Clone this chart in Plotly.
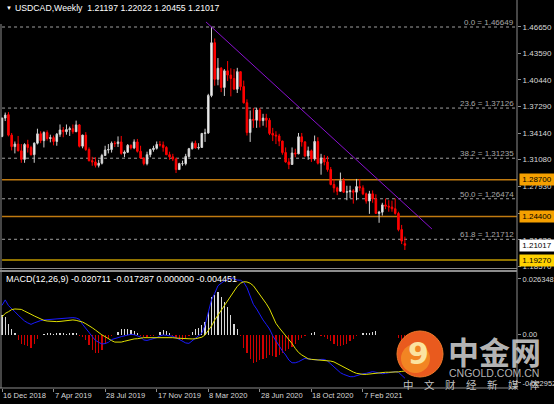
import plotly.graph_objects as go

# ---------------- data (weekly bars, USDCAD) ----------------
week_start = ["2018-12-16", "2018-12-23", "2018-12-30", "2019-01-06", "2019-01-13", "2019-01-20", "2019-01-27",
              "2019-02-03", "2019-02-10", "2019-02-17", "2019-02-24", "2019-03-03", "2019-03-10", "2019-03-17",
              "2019-03-24", "2019-03-31", "2019-04-07", "2019-04-14", "2019-04-21", "2019-04-28", "2019-05-05",
              "2019-05-12", "2019-05-19", "2019-05-26", "2019-06-02", "2019-06-09", "2019-06-16", "2019-06-23",
              "2019-06-30", "2019-07-07", "2019-07-14", "2019-07-21", "2019-07-28", "2019-08-04", "2019-08-11",
              "2019-08-18", "2019-08-25", "2019-09-01", "2019-09-08", "2019-09-15", "2019-09-22", "2019-09-29",
              "2019-10-06", "2019-10-13", "2019-10-20", "2019-10-27", "2019-11-03", "2019-11-10", "2019-11-17",
              "2019-11-24", "2019-12-01", "2019-12-08", "2019-12-15", "2019-12-22", "2019-12-29", "2020-01-05",
              "2020-01-12", "2020-01-19", "2020-01-26", "2020-02-02", "2020-02-09", "2020-02-16", "2020-02-23",
              "2020-03-01", "2020-03-08", "2020-03-15", "2020-03-22", "2020-03-29", "2020-04-05", "2020-04-12",
              "2020-04-19", "2020-04-26", "2020-05-03", "2020-05-10", "2020-05-17", "2020-05-24", "2020-05-31",
              "2020-06-07", "2020-06-14", "2020-06-21", "2020-06-28", "2020-07-05", "2020-07-12", "2020-07-19",
              "2020-07-26", "2020-08-02", "2020-08-09", "2020-08-16", "2020-08-23", "2020-08-30", "2020-09-06",
              "2020-09-13", "2020-09-20", "2020-09-27", "2020-10-04", "2020-10-11", "2020-10-18", "2020-10-25",
              "2020-11-01", "2020-11-08", "2020-11-15", "2020-11-22", "2020-11-29", "2020-12-06", "2020-12-13",
              "2020-12-20", "2020-12-27", "2021-01-03", "2021-01-10", "2021-01-17", "2021-01-24", "2021-01-31",
              "2021-02-07", "2021-02-14", "2021-02-21", "2021-02-28", "2021-03-07", "2021-03-14", "2021-03-21",
              "2021-03-28", "2021-04-04", "2021-04-11", "2021-04-18", "2021-04-25", "2021-05-02", "2021-05-09"]

open_ = [1.3380, 1.3595, 1.3635, 1.3395, 1.3260, 1.3290, 1.3210, 1.3110, 1.3285, 1.3250, 1.3165, 1.3300, 1.3410,
         1.3330, 1.3425, 1.3355, 1.3365, 1.3320, 1.3405, 1.3455, 1.3435, 1.3460, 1.3470, 1.3435, 1.3515, 1.3265,
         1.3395, 1.3225, 1.3095, 1.3080, 1.3040, 1.3065, 1.3155, 1.3220, 1.3225, 1.3300, 1.3295, 1.3315, 1.3180,
         1.3195, 1.3275, 1.3245, 1.3315, 1.3205, 1.3125, 1.3060, 1.3165, 1.3225, 1.3240, 1.3285, 1.3280, 1.3250,
         1.3165, 1.3140, 1.3115, 1.2990, 1.3060, 1.3060, 1.3145, 1.3235, 1.3300, 1.3245, 1.3250, 1.3415, 1.3420,
         1.3860, 1.4480, 1.4050, 1.4180, 1.3955, 1.4150, 1.4100, 1.4060, 1.3935, 1.4140, 1.3965, 1.3775, 1.3425,
         1.3580, 1.3570, 1.3690, 1.3565, 1.3595, 1.3570, 1.3415, 1.3395, 1.3385, 1.3325, 1.3190, 1.3080, 1.3050,
         1.3185, 1.3175, 1.3375, 1.3315, 1.3150, 1.3210, 1.3115, 1.3320, 1.3065, 1.3125, 1.3080, 1.2990, 1.2815,
         1.2775, 1.2735, 1.2860, 1.2725, 1.2730, 1.2740, 1.2725, 1.2790, 1.2775, 1.2705, 1.2620, 1.2705, 1.2645,
         1.2475, 1.2490, 1.2575, 1.2560, 1.2550, 1.2530, 1.2475, 1.2285, 1.21197]
high = [1.3600, 1.3660, 1.3665, 1.3420, 1.3320, 1.3385, 1.3290, 1.3300, 1.3340, 1.3270, 1.3310, 1.3470, 1.3440,
        1.3440, 1.3450, 1.3400, 1.3390, 1.3420, 1.3520, 1.3490, 1.3520, 1.3495, 1.3520, 1.3565, 1.3525, 1.3400,
        1.3430, 1.3250, 1.3140, 1.3135, 1.3105, 1.3175, 1.3270, 1.3290, 1.3320, 1.3325, 1.3380, 1.3385, 1.3215,
        1.3290, 1.3285, 1.3345, 1.3350, 1.3270, 1.3135, 1.3200, 1.3235, 1.3270, 1.3320, 1.3325, 1.3320, 1.3265,
        1.3200, 1.3175, 1.3130, 1.3070, 1.3095, 1.3175, 1.3245, 1.3320, 1.3330, 1.3300, 1.3420, 1.3470, 1.3880,
        1.4667, 1.4530, 1.4300, 1.4195, 1.4170, 1.4265, 1.4180, 1.4170, 1.4185, 1.4145, 1.4035, 1.3815, 1.3685,
        1.3715, 1.3715, 1.3715, 1.3645, 1.3645, 1.3595, 1.3480, 1.3440, 1.3410, 1.3330, 1.3250, 1.3125, 1.3250,
        1.3235, 1.3420, 1.3420, 1.3325, 1.3260, 1.3225, 1.3390, 1.3370, 1.3175, 1.3160, 1.3150, 1.3020, 1.2875,
        1.2790, 1.2955, 1.2890, 1.2800, 1.2800, 1.2760, 1.2880, 1.2880, 1.2805, 1.2720, 1.2740, 1.2745, 1.2700,
        1.2505, 1.2600, 1.2650, 1.2630, 1.2625, 1.2650, 1.2495, 1.2340, 1.22022]
low = [1.3370, 1.3560, 1.3380, 1.3215, 1.3180, 1.3205, 1.3070, 1.3070, 1.3190, 1.3155, 1.3070, 1.3285, 1.3300,
       1.3250, 1.3330, 1.3310, 1.3275, 1.3270, 1.3375, 1.3370, 1.3400, 1.3385, 1.3410, 1.3430, 1.3250, 1.3240,
       1.3210, 1.3085, 1.3035, 1.3015, 1.3015, 1.3050, 1.3150, 1.3180, 1.3190, 1.3255, 1.3255, 1.3165, 1.3135,
       1.3185, 1.3225, 1.3230, 1.3190, 1.3115, 1.3040, 1.3040, 1.3135, 1.3200, 1.3225, 1.3260, 1.3200, 1.3160,
       1.3105, 1.3090, 1.2950, 1.2990, 1.3035, 1.3040, 1.3130, 1.3225, 1.3235, 1.3225, 1.3250, 1.3315, 1.3410,
       1.3840, 1.3975, 1.3980, 1.3900, 1.3855, 1.4030, 1.3850, 1.3930, 1.3890, 1.3920, 1.3765, 1.3390, 1.3315,
       1.3480, 1.3480, 1.3485, 1.3505, 1.3485, 1.3395, 1.3325, 1.3290, 1.3265, 1.3165, 1.3070, 1.2995, 1.3050,
       1.3135, 1.3170, 1.3260, 1.3140, 1.3105, 1.3080, 1.3095, 1.3050, 1.2930, 1.3040, 1.2965, 1.2805, 1.2720,
       1.2690, 1.2730, 1.2715, 1.2630, 1.2655, 1.2590, 1.2630, 1.2740, 1.2690, 1.2590, 1.2470, 1.2600, 1.2470,
       1.2365, 1.2450, 1.2525, 1.2495, 1.2495, 1.2460, 1.2265, 1.2115, 1.20455]
close = [1.3595, 1.3630, 1.3395, 1.3260, 1.3290, 1.3210, 1.3110, 1.3285, 1.3250, 1.3165, 1.3300, 1.3410, 1.3330,
         1.3425, 1.3355, 1.3365, 1.3320, 1.3405, 1.3455, 1.3435, 1.3460, 1.3470, 1.3435, 1.3515, 1.3265, 1.3395,
         1.3225, 1.3095, 1.3080, 1.3040, 1.3065, 1.3155, 1.3220, 1.3225, 1.3300, 1.3295, 1.3315, 1.3180, 1.3195,
         1.3275, 1.3245, 1.3315, 1.3205, 1.3125, 1.3060, 1.3165, 1.3225, 1.3240, 1.3285, 1.3280, 1.3250, 1.3165,
         1.3140, 1.3115, 1.2990, 1.3060, 1.3060, 1.3145, 1.3235, 1.3300, 1.3245, 1.3250, 1.3415, 1.3420, 1.3860,
         1.4480, 1.4050, 1.4180, 1.3955, 1.4150, 1.4100, 1.4060, 1.3935, 1.4140, 1.3965, 1.3775, 1.3425, 1.3580,
         1.3570, 1.3690, 1.3565, 1.3595, 1.3570, 1.3415, 1.3395, 1.3385, 1.3325, 1.3190, 1.3080, 1.3050, 1.3185,
         1.3175, 1.3375, 1.3315, 1.3150, 1.3210, 1.3115, 1.3320, 1.3065, 1.3125, 1.3080, 1.2990, 1.2815, 1.2775,
         1.2735, 1.2860, 1.2725, 1.2730, 1.2740, 1.2725, 1.2790, 1.2775, 1.2705, 1.2620, 1.2705, 1.2645, 1.2475,
         1.2490, 1.2575, 1.2560, 1.2550, 1.2530, 1.2475, 1.2285, 1.2150, 1.21017]

macd_hist_e3 = [9.2, 8.4, 5.2, 2.8, 0.5, -2.7, -4.7, -5.1, -5.4, -6.3, -4.3, -1.9, -0.3, 0.4, 0.8, 0.8, 0.3, 0.5,
                0.5, 0.5, 0.3, 0.5, 0.5, 0.5, -0.6, -1.1, -2.7, -5.1, -7.4, -9.0, -9.0, -7.4, -4.3, -1.9, -0.6,
                0.0, 1.3, 2.4, 2.5, 2.4, 2.1, 1.6, 0.5, -0.6, -1.1, -1.1, -0.6, -0.6, -0.3, 1.3, 1.9, 1.6, 0.8,
                -0.6, -1.6, -2.7, -2.7, -1.6, -0.6, 1.3, 2.5, 3.2, 4.7, 6.0, 10.7, 17.9, 18.6, 20.2, 17.9, 15.5,
                13.1, 9.2, 5.2, 2.8, -0.5, -6.6, -9.0, -11.7, -13.3, -13.0, -12.2, -11.7, -11.1, -9.8, -10.1,
                -10.6, -9.8, -9.0, -7.9, -7.0, -5.8, -4.3, -2.7, -1.6, -0.6, -0.3, 0.5, 1.3, 0.0, -0.6, -1.1,
                -1.9, -3.2, -4.7, -5.5, -5.5, -5.1, -4.3, -3.2, -1.9, -0.8, 0.0, 0.5, 0.6, 0.8, 1.3, 1.6, -0.3,
                -0.3, -0.3, -0.3, -0.3, -0.3, -1.5, -2.8, -4.45]
macd_main_e3 = [13.8, 16.4, 13.7, 12.4, 10.8, 9.2, 7.7, 6.4, 5.5, 4.8, 5.5, 6.1, 6.6, 6.9, 7.0, 7.2, 7.2, 7.3, 7.5,
                7.7, 7.8, 8.0, 8.0, 7.8, 7.2, 4.8, 2.6, 1.0, -1.0, -2.8, -3.7, -4.5, -4.3, -3.7, -2.4, -1.8, -1.5,
                -1.0, -0.7, -0.4, 0.1, -0.1, -0.6, -1.2, -2.6, -2.8, -2.4, -2.1, -1.5, -0.7, -0.2, -0.4, -0.6,
                -0.9, -1.5, -2.4, -3.4, -4.0, -4.2, -3.1, -1.8, -0.6, 0.6, 4.5, 10.8, 16.4, 19.5, 23.1, 24.3,
                25.4, 26.0, 26.9, 26.3, 25.8, 25.7, 24.7, 22.2, 17.9, 14.3, 12.1, 9.2, 6.9, 4.8, 2.6, -0.6, -3.1,
                -5.8, -7.8, -9.7, -12.1, -13.4, -13.4, -12.9, -11.9, -11.3, -11.6, -11.8, -12.1, -12.1, -11.8,
                -11.8, -12.6, -14.0, -15.4, -17.0, -18.1, -18.9, -19.5, -20.0, -20.0, -19.5, -18.9, -18.6, -18.4,
                -18.1, -17.6, -17.9, -18.4, -18.6, -18.4, -18.1, -17.6, -17.6, -17.9, -19.2, -20.7]
macd_signal_e3 = [8.3, 10.0, 10.8, 11.8, 12.1, 12.1, 11.9, 11.1, 10.5, 9.6, 8.8, 8.0, 7.3, 6.7, 6.4, 6.2, 6.1,
                  6.1, 6.2, 6.4, 6.6, 6.7, 6.9, 6.7, 6.4, 5.9, 5.1, 4.3, 3.2, 2.1, 0.9, -0.2, -1.0, -2.1, -2.9,
                  -3.6, -3.7, -3.6, -3.2, -2.8, -2.3, -2.1, -2.0, -1.7, -1.5, -1.5, -1.5, -1.5, -1.5, -1.3, -1.3,
                  -1.3, -1.3, -1.5, -1.7, -1.8, -2.0, -2.1, -2.1, -2.1, -2.0, -1.8, -1.3, -0.2, 1.7, 4.0, 6.9,
                  9.2, 11.3, 13.7, 15.9, 18.2, 20.6, 22.8, 24.3, 25.0, 24.9, 24.3, 23.1, 21.1, 18.7, 16.7, 14.6,
                  12.1, 8.5, 5.3, 3.2, 1.3, -0.2, -2.1, -4.3, -6.6, -8.5, -9.7, -10.7, -11.5, -11.8, -11.9,
                  -12.1, -12.1, -12.1, -12.2, -12.6, -13.0, -13.8, -14.6, -15.4, -16.4, -17.1, -17.8, -18.4,
                  -18.7, -18.9, -18.9, -18.7, -18.6, -18.4, -18.2, -18.1, -17.9, -17.9, -17.9, -17.9, -17.7,
                  -17.5, -17.3]

date_tick_bars = [0, 16, 32, 48, 64, 80, 96, 112]
date_tick_labels = ["16 Dec 2018", "7 Apr 2019", "28 Jul 2019", "17 Nov 2019", "8 Mar 2020",
                    "28 Jun 2020", "18 Oct 2020", "7 Feb 2021"]
price_ticks = [1.46650, 1.43590, 1.40440, 1.37290, 1.34140, 1.31080, 1.27930, 1.24780, 1.21630, 1.18570]
macd_ticks = [0.026348, 0.0, -0.022952]
macd_tick_labels = ["0.026348", "0.00", "-0.022952"]
fib_levels = ["0.0", "23.6", "38.2", "50.0", "61.8"]
fib_prices = [1.46649, 1.37126, 1.31235, 1.26474, 1.21712]
level_prices = [1.28700, 1.24400, 1.19270]
level_labels = ["1.28700", "1.24400", "1.19270"]
last_price = 1.21017
trend_bars = [63.3, 133.4]
trend_prices = [1.4724, 1.2292]
title_text = "USDCAD,Weekly  1.21197 1.22022 1.20455 1.21017"
macd_text = "MACD(12,26,9) -0.020711 -0.017287 0.000000 -0.004451"

# ---------------- layout geometry (pixels) ----------------
W, H = 554, 404
ML, MR, MT, MB = 1, 37, 0, 16
PW, PH = W - ML - MR, H - MT - MB   # 516 x 388


def px(x):
    return (x - ML) / PW


def py(y):
    return (MT + PH - y) / PH


FONT = "Liberation Sans, Arial, sans-serif"
AX_COL = "#d8d8d8"
BORDER = "#8c8c8c"

bars = list(range(len(close)))
fig = go.Figure()

# candles
fig.add_trace(go.Candlestick(
    x=bars, open=open_, high=high, low=low, close=close,
    increasing=dict(line=dict(color="#d0d0d0", width=1), fillcolor="#ffffff"),
    decreasing=dict(line=dict(color="#ff0000", width=1), fillcolor="#ff0000"),
    whiskerwidth=0, hoverinfo="skip", showlegend=False, xaxis="x", yaxis="y"))

# trend line
fig.add_trace(go.Scatter(x=trend_bars, y=trend_prices, mode="lines",
                         line=dict(color="#8a10d0", width=1), hoverinfo="skip",
                         showlegend=False, xaxis="x", yaxis="y"))

# MACD histogram and lines
hist = [v / 1000 for v in macd_hist_e3]
fig.add_trace(go.Bar(x=bars, y=hist, width=0.38,
                     marker=dict(color=["#d8d8d8" if v >= 0 else "#d00000" for v in hist], line_width=0),
                     hoverinfo="skip", showlegend=False, xaxis="x", yaxis="y2"))
fig.add_trace(go.Scatter(x=bars, y=[v / 1000 for v in macd_main_e3], mode="lines",
                         line=dict(color="#1a1aff", width=1), hoverinfo="skip",
                         showlegend=False, xaxis="x", yaxis="y2"))
fig.add_trace(go.Scatter(x=bars, y=[v / 1000 for v in macd_signal_e3], mode="lines",
                         line=dict(color="#e0e000", width=1), hoverinfo="skip",
                         showlegend=False, xaxis="x", yaxis="y2"))

shapes = []
# fib dotted lines
for p in fib_prices:
    shapes.append(dict(type="line", xref="paper", yref="y", x0=0.002, x1=1, y0=p, y1=p,
                       line=dict(color="#a0a0a0", width=1, dash="dot"), layer="below"))
# horizontal levels
level_line_cols = ["#c07a10", "#c07a10", "#c09a00"]
for p, c in zip(level_prices, level_line_cols):
    shapes.append(dict(type="line", xref="paper", yref="y", x0=0.002, x1=1, y0=p, y1=p,
                       line=dict(color=c, width=1.5), layer="below"))
# borders
shapes += [
    dict(type="line", xref="paper", yref="paper", x0=px(517), x1=px(517), y0=py(0), y1=py(388),
         line=dict(color=BORDER, width=1)),
    dict(type="line", xref="paper", yref="paper", x0=px(1), x1=px(1), y0=py(24), y1=py(388),
         line=dict(color=BORDER, width=1)),
    dict(type="line", xref="paper", yref="paper", x0=px(0), x1=px(517), y0=py(268.5), y1=py(268.5),
         line=dict(color=BORDER, width=1)),
    dict(type="line", xref="paper", yref="paper", x0=px(0), x1=px(517), y0=py(271), y1=py(271),
         line=dict(color=BORDER, width=2)),
    dict(type="line", xref="paper", yref="paper", x0=px(0), x1=px(517), y0=py(388), y1=py(388),
         line=dict(color=BORDER, width=1)),
]
# watermark logo circle
shapes.append(dict(type="circle", xref="paper", yref="paper", x0=px(397), x1=px(443), y0=py(377), y1=py(331),
                   fillcolor="#e95a1e", line=dict(color="#f07a2a", width=1)))
shapes.append(dict(type="circle", xref="paper", yref="paper", x0=px(401), x1=px(430), y0=py(373), y1=py(344),
                   fillcolor="rgba(250,170,40,0.55)", line=dict(width=0)))

annotations = []
annotations.append(dict(xref="paper", yref="paper", x=px(4), y=py(8), text="▼", showarrow=False,
                        xanchor="left", yanchor="middle", font=dict(family=FONT, size=6, color="#ffffff")))
annotations.append(dict(xref="paper", yref="paper", x=px(13), y=py(8), text=title_text, showarrow=False,
                        xanchor="left", yanchor="middle", font=dict(family=FONT, size=8.7, color="#ffffff")))
annotations.append(dict(xref="paper", yref="paper", x=px(4), y=py(279), text=macd_text, showarrow=False,
                        xanchor="left", yanchor="middle", font=dict(family=FONT, size=9, color="#ffffff")))
for lvl, p in zip(fib_levels, fib_prices):
    annotations.append(dict(xref="paper", yref="y", x=px(516), y=p, text=f"{lvl} = {p:.5f}", showarrow=False,
                            xanchor="right", yanchor="bottom", yshift=-2,
                            font=dict(family=FONT, size=8, color="#a8a8a8")))
box_cols = ["#f5a000", "#f5a000", "#ffd200"]
for p, t, c in zip(level_prices, level_labels, box_cols):
    annotations.append(dict(xref="paper", yref="y", x=px(519), y=p, text=t, showarrow=False,
                            xanchor="left", yanchor="middle", bgcolor=c, borderpad=1, width=32,
                            font=dict(family=FONT, size=8, color="#000000")))
annotations.append(dict(xref="paper", yref="y", x=px(519), y=last_price, text=f"{last_price:.5f}",
                        showarrow=False, xanchor="left", yanchor="middle", bgcolor="#ffffff", borderpad=1,
                        width=32, font=dict(family=FONT, size=8, color="#000000")))
# date labels (left-aligned at their tick, as in the terminal)
for b, t in zip(date_tick_bars, date_tick_labels):
    annotations.append(dict(xref="x", yref="paper", x=b, y=py(395.5), text=t, showarrow=False,
                            xanchor="left", yanchor="middle", xshift=-1,
                            font=dict(family=FONT, size=7.6, color=AX_COL)))
# watermark texts
annotations.append(dict(xref="paper", yref="paper", x=px(418), y=py(353), text="<b>9</b>", showarrow=False,
                        xanchor="center", yanchor="middle",
                        font=dict(family="DejaVu Sans", size=30, color="#fbe3a0")))
annotations.append(dict(xref="paper", yref="paper", x=px(494), y=py(350), text="<b>中金网</b>", showarrow=False,
                        xanchor="center", yanchor="middle",
                        font=dict(family="Noto Sans CJK SC", size=31, color="rgba(205,205,205,0.9)")))
annotations.append(dict(xref="paper", yref="paper", x=px(494), y=py(373), text="CNGOLD.COM.CN",
                        showarrow=False, xanchor="center", yanchor="middle",
                        font=dict(family=FONT, size=10.5, color="rgba(200,200,200,0.9)")))
annotations.append(dict(xref="paper", yref="paper", x=px(471), y=py(384),
                        text="中\u2003文\u2003财\u2003经\u2003新\u2003媒\u2003体", showarrow=False,
                        xanchor="center", yanchor="middle",
                        font=dict(family="Noto Sans CJK SC", size=10.5, color="rgba(215,215,215,0.9)")))

fig.update_layout(
    width=W, height=H, margin=dict(l=ML, r=MR, t=MT, b=MB, pad=0, autoexpand=False),
    paper_bgcolor="#000000", plot_bgcolor="#000000", showlegend=False,
    bargap=0, boxgap=0.3,
    xaxis=dict(range=[-0.31, 159.79], anchor="y2", showgrid=False, zeroline=False, showline=False,
               automargin=False, tickmode="array", tickvals=date_tick_bars, showticklabels=False,
               ticks="outside", ticklen=3, tickcolor=BORDER, rangeslider=dict(visible=False),
               fixedrange=True),
    yaxis=dict(domain=[py(268), 1], range=[1.1834, 1.4982], side="right", anchor="x",
               showgrid=False, zeroline=False, showline=False, automargin=False,
               tickmode="array", tickvals=price_ticks, ticktext=[f"{v:.5f}" for v in price_ticks],
               ticks="outside", ticklen=3, tickcolor=BORDER,
               tickfont=dict(family=FONT, size=8, color=AX_COL), fixedrange=True),
    yaxis2=dict(domain=[0, py(271)], range=[-0.02536, 0.0301], side="right", anchor="x",
                showgrid=False, zeroline=False, showline=False, automargin=False,
                tickmode="array", tickvals=macd_ticks, ticktext=macd_tick_labels,
                ticks="outside", ticklen=3, tickcolor=BORDER,
                tickfont=dict(family=FONT, size=7.5, color=AX_COL), fixedrange=True),
    shapes=shapes, annotations=annotations,
)

fig.write_html("out.html", include_plotlyjs=True, full_html=True,
               config={"displayModeBar": False, "staticPlot": True},
               post_script="document.body.style.margin='0';document.body.style.overflow='hidden';")
